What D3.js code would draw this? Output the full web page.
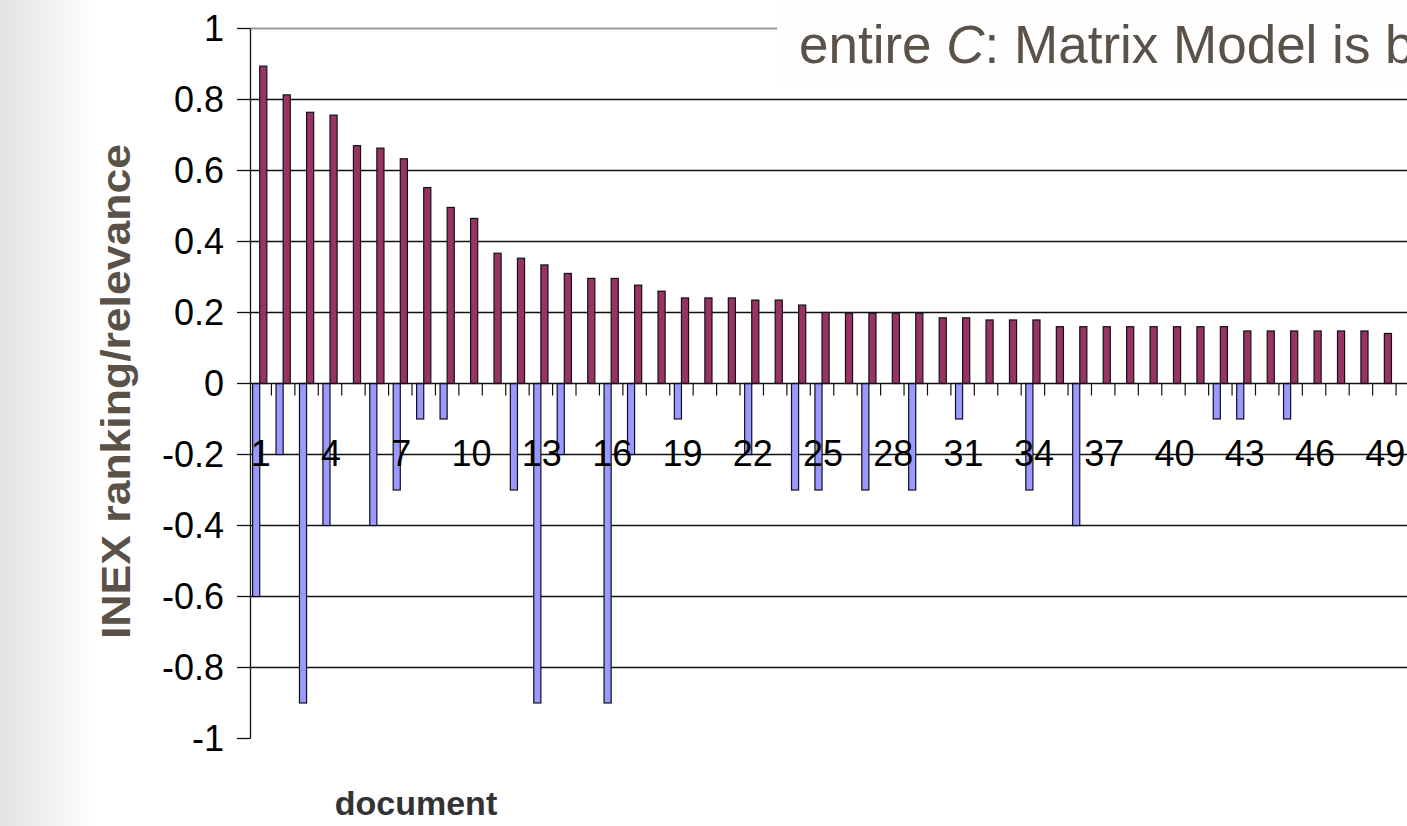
<!DOCTYPE html>
<html>
<head>
<meta charset="utf-8">
<script src="https://cdn.jsdelivr.net/npm/d3@7"></script>
<style>
  body { margin: 0; background: #fff; }
  svg { display: block; font-family: Arial, "Liberation Sans", sans-serif; }
</style>
</head>
<body>
<svg id="chart"></svg>
<script>
// documents 1..50 (the chart runs off the right edge after 50)
const documents = d3.range(1, 51);

// INEX relevance (blue, drawn below zero)
const relevance = [
  -0.6, -0.2, -0.9, -0.4, 0, -0.4, -0.3, -0.1, -0.1, 0,
  0, -0.3, -0.9, -0.2, 0, -0.9, -0.2, 0, -0.1, 0,
  0, -0.2, 0, -0.3, -0.3, 0, -0.3, 0, -0.3, 0,
  -0.1, 0, 0, -0.3, 0, -0.4, 0, 0, 0, 0,
  0, -0.1, -0.1, 0, -0.1, 0, 0, 0, 0, 0
];

// ranking score (maroon)
const ranking = [
  0.894, 0.813, 0.764, 0.756, 0.670, 0.663, 0.633, 0.552, 0.496, 0.465,
  0.367, 0.353, 0.334, 0.310, 0.296, 0.296, 0.277, 0.260, 0.241, 0.241,
  0.241, 0.235, 0.235, 0.221, 0.200, 0.198, 0.198, 0.198, 0.198, 0.185,
  0.185, 0.179, 0.179, 0.179, 0.160, 0.160, 0.160, 0.160, 0.160, 0.160,
  0.160, 0.160, 0.148, 0.148, 0.148, 0.148, 0.148, 0.148, 0.141, 0.141
];

const yTicks = [1, 0.8, 0.6, 0.4, 0.2, 0, -0.2, -0.4, -0.6, -0.8, -1];
const xLabelEvery = 3;

const width = 1407, height = 826;
const svg = d3.select("#chart")
  .attr("width", width)
  .attr("height", height);

// grey strip down the left side of the slide
const grad = svg.append("defs").append("linearGradient")
  .attr("id", "side")
  .attr("x1", 0).attr("x2", 1).attr("y1", 0).attr("y2", 0);
grad.append("stop").attr("offset", 0).attr("stop-color", "#e4e3e1");
grad.append("stop").attr("offset", 1).attr("stop-color", "#ffffff");
svg.append("rect")
  .attr("width", 95).attr("height", height)
  .attr("fill", "url(#side)");

// scales
const step = 23.43;
const x = d3.scaleBand()
  .domain(documents)
  .range([248, 248 + documents.length * step]);

const xs = d3.scaleBand()
  .domain(["relevance", "ranking"])
  .range([0, x.bandwidth()])
  .paddingOuter(0.65);

const y = d3.scaleLinear()
  .domain([-1, 1])
  .range([738.5, 28.5]);

const axisX = 250.5;
const tickFont = 36;

// gridlines
svg.append("g")
  .selectAll("line")
  .data(yTicks.filter(d => d !== 0 && d !== -1))
  .join("line")
    .attr("x1", axisX).attr("x2", width)
    .attr("y1", d => y(d)).attr("y2", d => y(d))
    .attr("stroke", d => d === 1 ? "#9a9a9a" : "#111")
    .attr("stroke-width", d => d === 1 ? 2 : 1.3);

// bars
const bars = svg.append("g").attr("stroke", "#111").attr("stroke-width", 1.2);

bars.selectAll(".rel")
  .data(documents.map((d, i) => ({ doc: d, v: relevance[i] })).filter(d => d.v !== 0))
  .join("rect")
    .attr("class", "rel")
    .attr("x", d => x(d.doc) + xs("relevance"))
    .attr("width", xs.bandwidth())
    .attr("y", y(0))
    .attr("height", d => y(d.v) - y(0))
    .attr("fill", "#9999ff");

bars.selectAll(".rank")
  .data(documents.map((d, i) => ({ doc: d, v: ranking[i] })))
  .join("rect")
    .attr("class", "rank")
    .attr("x", d => x(d.doc) + xs("ranking"))
    .attr("width", xs.bandwidth())
    .attr("y", d => y(d.v))
    .attr("height", d => y(0) - y(d.v))
    .attr("fill", "#993366");

// x axis on the zero line, ticks between categories
const xAxis = svg.append("g");
xAxis.append("line")
  .attr("x1", axisX).attr("x2", width)
  .attr("y1", y(0)).attr("y2", y(0))
  .attr("stroke", "#111").attr("stroke-width", 1.3);
xAxis.selectAll(".tick")
  .data(documents)
  .join("line")
    .attr("class", "tick")
    .attr("x1", d => x(d) + x.step()).attr("x2", d => x(d) + x.step())
    .attr("y1", y(0)).attr("y2", y(0) + 12)
    .attr("stroke", "#111").attr("stroke-width", 1.2);
xAxis.selectAll("text")
  .data(documents.filter((d, i) => i % xLabelEvery === 0))
  .join("text")
    .attr("x", d => x(d) + x.bandwidth() / 2 + 1)
    .attr("y", 466)
    .attr("text-anchor", "middle")
    .attr("font-size", tickFont)
    .attr("fill", "#000")
    .text(d => d);

// y axis
const yAxis = svg.append("g");
yAxis.append("line")
  .attr("x1", axisX).attr("x2", axisX)
  .attr("y1", y(1)).attr("y2", y(-1))
  .attr("stroke", "#111").attr("stroke-width", 1.3);
yAxis.selectAll(".tick")
  .data(yTicks)
  .join("line")
    .attr("class", "tick")
    .attr("x1", 237).attr("x2", axisX)
    .attr("y1", d => y(d)).attr("y2", d => y(d))
    .attr("stroke", "#111").attr("stroke-width", 1.3);
yAxis.selectAll("text")
  .data(yTicks)
  .join("text")
    .attr("x", 224)
    .attr("y", d => y(d))
    .attr("dy", "0.36em")
    .attr("text-anchor", "end")
    .attr("font-size", tickFont)
    .attr("fill", "#000")
    .text(d => String(d));

// axis titles
svg.append("text")
  .attr("transform", `translate(130, ${y(0) + 8}) rotate(-90)`)
  .attr("text-anchor", "middle")
  .attr("font-size", 40)
  .attr("font-weight", "bold")
  .attr("textLength", 495)
  .attr("lengthAdjust", "spacingAndGlyphs")
  .attr("fill", "#5a5148")
  .text("INEX ranking/relevance");

svg.append("text")
  .attr("x", 416)
  .attr("y", 815)
  .attr("text-anchor", "middle")
  .attr("font-size", 34)
  .attr("font-weight", "bold")
  .attr("fill", "#333")
  .text("document");

// slide title box overlapping the chart
svg.append("rect")
  .attr("x", 777).attr("y", 0)
  .attr("width", width - 777).attr("height", 84)
  .attr("fill", "#fefefe");
const title = svg.append("text")
  .attr("x", 799)
  .attr("y", 63)
  .attr("font-size", 53)
  .attr("fill", "#5a5148");
title.append("tspan").text("entire ");
title.append("tspan").attr("font-style", "italic").text("C");
title.append("tspan").text(": Matrix Model is based on");
</script>
</body>
</html>
